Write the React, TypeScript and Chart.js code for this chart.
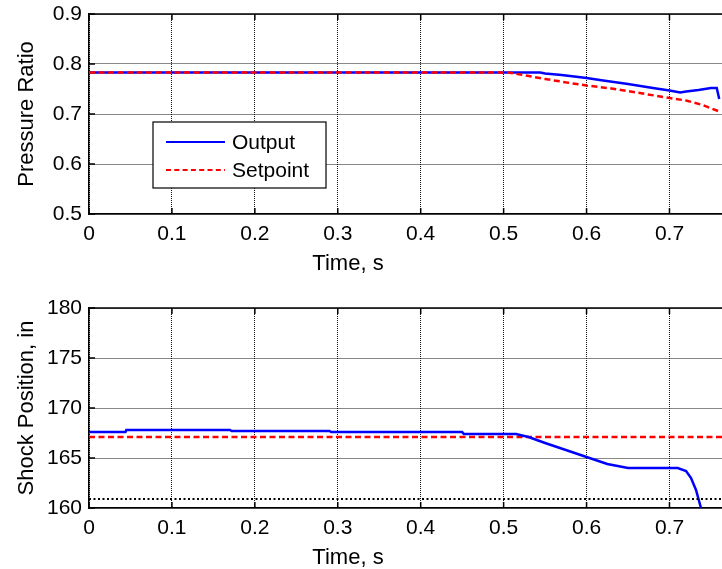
import React, { useEffect, useRef } from 'react';
import { Chart, registerables } from 'chart.js';
Chart.register(...registerables);

const FONT = '"Liberation Sans", Arial, Helvetica, sans-serif';

// ---- Top subplot: Pressure Ratio ----
const timeOutputTop = [0, 0.5, 0.544, 0.55, 0.57, 0.58, 0.6, 0.62, 0.65, 0.68, 0.7, 0.713, 0.72, 0.735, 0.75, 0.757, 0.76];
const outputTop = [0.783, 0.783, 0.783, 0.781, 0.778, 0.776, 0.772, 0.767, 0.76, 0.752, 0.747, 0.743, 0.745, 0.748, 0.752, 0.752, 0.73];
const timeSetpointTop = [0, 0.505, 0.52, 0.55, 0.58, 0.6, 0.63, 0.66, 0.7, 0.72, 0.74, 0.76];
const setpointTop = [0.783, 0.783, 0.779, 0.77, 0.762, 0.757, 0.751, 0.743, 0.732, 0.727, 0.718, 0.705];

// ---- Bottom subplot: Shock Position ----
const timeOutputBot = [0, 0.044, 0.045, 0.17, 0.172, 0.29, 0.292, 0.45, 0.452, 0.515, 0.53, 0.55, 0.575, 0.6, 0.625, 0.65, 0.71, 0.72, 0.726, 0.732, 0.738];
const outputBot = [167.6, 167.6, 167.8, 167.8, 167.7, 167.7, 167.6, 167.6, 167.4, 167.4, 167.1, 166.5, 165.8, 165.1, 164.4, 164.0, 164.0, 163.7, 163.0, 161.8, 160.0];
const timeFlatBot = [0, 0.8];
const setpointBot = [167.1, 167.1];
const limitBot = [160.9, 160.9];

const legendLabels = ['Output', 'Setpoint'];
const xTitle = 'Time, s';
const yTitleTop = 'Pressure Ratio';
const yTitleBot = 'Shock Position, in';

const pts = (xs: number[], ys: number[]) => xs.map((x, i) => ({ x, y: ys[i] }));

function line(ctx: CanvasRenderingContext2D, x1: number, y1: number, x2: number, y2: number) {
  ctx.beginPath();
  ctx.moveTo(x1, y1);
  ctx.lineTo(x2, y2);
  ctx.stroke();
}

const framePlugin = {
  id: 'frame',
  afterDraw(chart: any) {
    const { ctx, chartArea: a, scales } = chart;
    ctx.save();
    ctx.strokeStyle = '#000';
    ctx.lineWidth = 1.5;
    ctx.setLineDash([]);
    line(ctx, a.left, a.top, a.right, a.top);
    const tl = 6;
    scales.x.ticks.forEach((t: any) => {
      const px = scales.x.getPixelForValue(t.value);
      line(ctx, px, a.bottom, px, a.bottom - tl);
      line(ctx, px, a.top, px, a.top + tl);
    });
    scales.y.ticks.forEach((t: any) => {
      const py = scales.y.getPixelForValue(t.value);
      line(ctx, a.left, py, a.left + tl, py);
      line(ctx, a.right, py, a.right - tl, py);
    });
    ctx.fillStyle = '#000';
    ctx.font = `22px ${FONT}`;
    ctx.textAlign = 'center';
    ctx.textBaseline = 'alphabetic';
    ctx.fillText(xTitle, a.left + 259, a.bottom + 56);
    ctx.restore();
  },
};

const legendPlugin = {
  id: 'boxLegend',
  afterDraw(chart: any) {
    const { ctx, chartArea: a } = chart;
    const L = a.left + 64;
    const T = a.top + 108;
    const W = 173;
    const H = 66;
    ctx.save();
    ctx.fillStyle = '#fff';
    ctx.fillRect(L, T, W, H);
    ctx.strokeStyle = '#000';
    ctx.lineWidth = 1.2;
    ctx.strokeRect(L, T, W, H);
    ctx.lineWidth = 2.2;
    ctx.strokeStyle = '#0000ff';
    line(ctx, a.left + 77, T + 20, a.left + 136, T + 20);
    ctx.strokeStyle = '#ff0000';
    ctx.setLineDash([5, 3.3]);
    line(ctx, a.left + 77, T + 48, a.left + 136, T + 48);
    ctx.setLineDash([]);
    ctx.fillStyle = '#000';
    ctx.font = `21px ${FONT}`;
    ctx.textAlign = 'left';
    ctx.textBaseline = 'alphabetic';
    ctx.fillText(legendLabels[0], a.left + 143, T + 27);
    ctx.fillText(legendLabels[1], a.left + 143, T + 55);
    ctx.restore();
  },
};

function xScale(height: number) {
  return {
    type: 'linear',
    min: 0,
    max: 0.8,
    afterFit: (s: any) => { s.height = height; },
    grid: { color: '#111', lineWidth: 1, drawTicks: false },
    border: { color: '#000', width: 1.5, dash: [1, 1] },
    ticks: {
      stepSize: 0.1,
      padding: 8,
      maxRotation: 0,
      autoSkip: false,
      color: '#000',
      font: { family: FONT, size: 21 },
      callback: (v: any) => String(Number(Number(v).toFixed(1))),
    },
  };
}

function yScale(min: number, max: number, step: number, title: string, decimals: number) {
  return {
    type: 'linear',
    min,
    max,
    afterFit: (s: any) => { s.width = 89; },
    grid: { color: '#111', lineWidth: 1, drawTicks: false },
    border: { color: '#000', width: 1.5, dash: [1, 1] },
    ticks: {
      stepSize: step,
      padding: 7,
      color: '#000',
      font: { family: FONT, size: 21 },
      callback: (v: any) => Number(v).toFixed(decimals),
    },
    title: {
      display: true,
      text: title,
      color: '#000',
      font: { family: FONT, size: 22 },
      padding: { top: 14, bottom: 0 },
    },
  };
}

export default function App() {
  const topRef = useRef<HTMLCanvasElement>(null);
  const botRef = useRef<HTMLCanvasElement>(null);

  useEffect(() => {
    const top = new Chart(topRef.current as HTMLCanvasElement, {
      type: 'line',
      data: {
        datasets: [
          {
            label: legendLabels[1],
            data: pts(timeSetpointTop, setpointTop),
            borderColor: '#ff0000',
            borderWidth: 2.5,
            borderDash: [6, 3.5],
            pointRadius: 0,
            tension: 0,
            fill: false,
          },
          {
            label: legendLabels[0],
            data: pts(timeOutputTop, outputTop),
            borderColor: '#0000ff',
            borderWidth: 2.5,
            pointRadius: 0,
            tension: 0,
            fill: false,
          },
        ],
      },
      options: {
        responsive: false,
        animation: false,
        layout: { padding: { left: 0, top: 24, right: 20, bottom: 0 } },
        plugins: { legend: { display: false }, tooltip: { enabled: false } },
        scales: {
          x: xScale(66) as any,
          y: yScale(0.5, 0.9, 0.1, yTitleTop, 1) as any,
        },
      },
      plugins: [framePlugin, legendPlugin],
    } as any);

    const bot = new Chart(botRef.current as HTMLCanvasElement, {
      type: 'line',
      data: {
        datasets: [
          {
            label: 'Limit',
            data: pts(timeFlatBot, limitBot),
            borderColor: '#000000',
            borderWidth: 2,
            borderDash: [2, 2.5],
            pointRadius: 0,
            tension: 0,
            fill: false,
          },
          {
            label: legendLabels[0],
            data: pts(timeOutputBot, outputBot),
            borderColor: '#0000ff',
            borderWidth: 2.5,
            pointRadius: 0,
            tension: 0,
            fill: false,
          },
          {
            label: legendLabels[1],
            data: pts(timeFlatBot, setpointBot),
            borderColor: '#ff0000',
            borderWidth: 2.5,
            borderDash: [6, 3.5],
            pointRadius: 0,
            tension: 0,
            fill: false,
          },
        ],
      },
      options: {
        responsive: false,
        animation: false,
        layout: { padding: { left: 0, top: 28, right: 20, bottom: 0 } },
        plugins: { legend: { display: false }, tooltip: { enabled: false } },
        scales: {
          x: xScale(61) as any,
          y: yScale(160, 180, 5, yTitleBot, 0) as any,
        },
      },
      plugins: [framePlugin],
    } as any);

    return () => {
      top.destroy();
      bot.destroy();
    };
  }, []);

  return (
    <div style={{ position: 'absolute', left: 0, top: 0, width: 722, height: 569, overflow: 'hidden', background: '#fff' }}>
      <canvas ref={topRef} width={775} height={290} style={{ position: 'absolute', left: 0, top: -10 }} />
      <canvas ref={botRef} width={775} height={289} style={{ position: 'absolute', left: 0, top: 280 }} />
    </div>
  );
}
